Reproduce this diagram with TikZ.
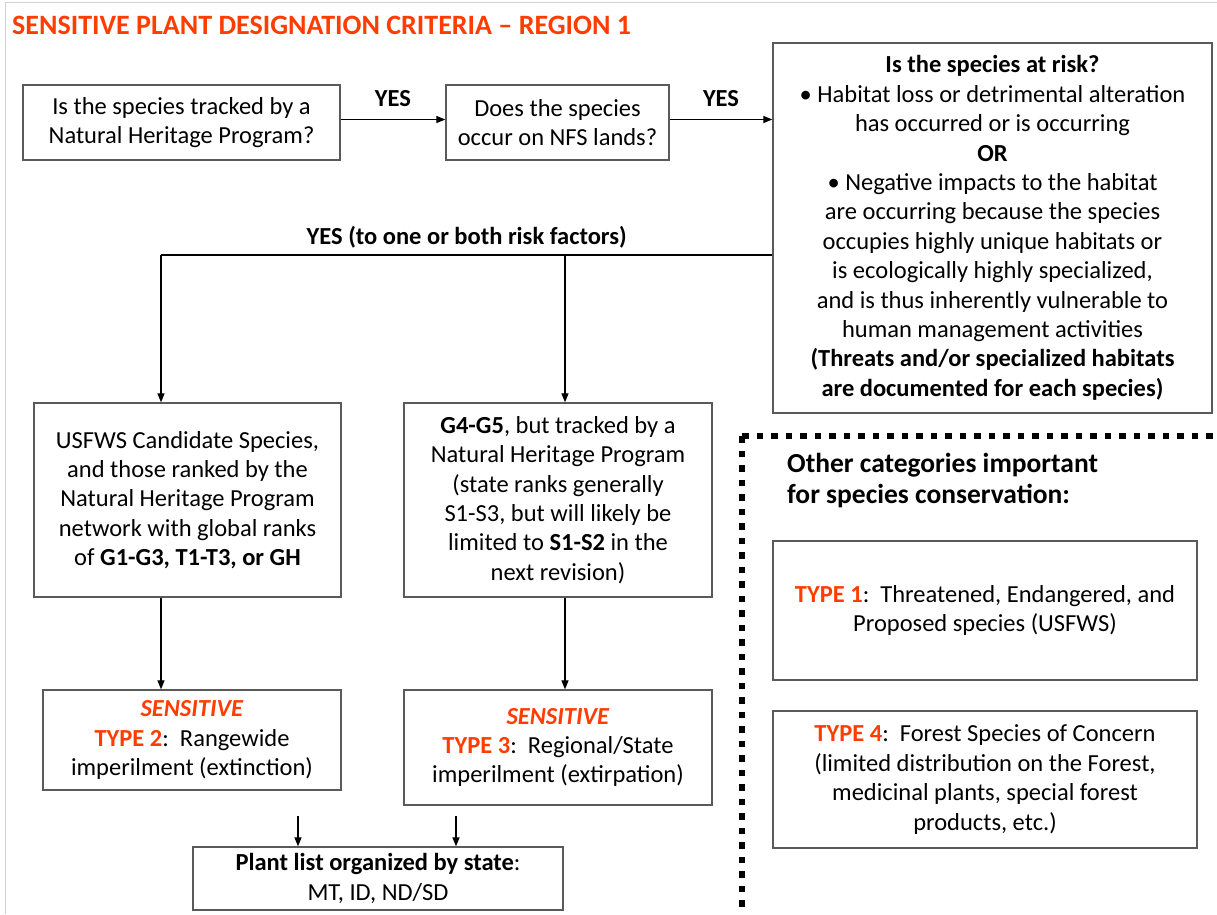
\documentclass[tikz,border=0pt]{standalone}
\usepackage{fontspec}
\setmainfont{Carlito}
\usetikzlibrary{arrows.meta,calc}
\definecolor{hot}{HTML}{FF3D00}
\definecolor{boxgray}{HTML}{5A5A5A}
\begin{document}
\begin{tikzpicture}[x=1pt,y=-1pt,
  box/.style={draw=boxgray, line width=1.3pt, align=center, inner sep=0pt,
    font=\fontsize{24.5}{29.4}\selectfont},
  conn/.style={line width=1.2pt, -{Triangle[length=9pt,width=7pt]}},
  plain/.style={line width=1.2pt},
  yeslbl/.style={font=\fontsize{24.5}{28}\selectfont\bfseries, inner sep=0pt},
  dotline/.style={line width=6.5pt, dash pattern=on 6.5pt off 8pt}
]
\useasboundingbox (0,0) rectangle (1217,914);
\fill[white] (0,0) rectangle (1217,914);
\draw[gray!35, line width=1pt] (5,914) -- (5,2) -- (1217,2);

% title
\node[anchor=west, inner sep=0pt, text=hot, font=\fontsize{28}{32}\selectfont\bfseries] (title) at (12,25)
  {SENSITIVE PLANT DESIGNATION CRITERIA – REGION 1};

% boxes
\node[box, minimum width=317pt, minimum height=75pt] (A) at (181.5,122.5)
  {Is the species tracked by a\\Natural Heritage Program?};
\node[box, minimum width=223pt, minimum height=75pt] (B) at (557.5,122.5)
  {Does the species\\occur on NFS lands?};
\node[box, minimum width=439pt, minimum height=370pt] (C) at (992.5,228)
  {\textbf{Is the species at risk?}\\
   • Habitat loss or detrimental alteration\\
   has occurred or is occurring\\
   \textbf{OR}\\
   • Negative impacts to the habitat\\
   are occurring because the species\\
   occupies highly unique habitats or\\
   is ecologically highly specialized,\\
   and is thus inherently vulnerable to\\
   human management activities\\
   \textbf{(Threats and/or specialized habitats}\\
   \textbf{are documented for each species)}};
\node[box, minimum width=307pt, minimum height=194pt] (D) at (187.5,500)
  {USFWS Candidate Species,\\and those ranked by the\\Natural Heritage Program\\network with global ranks\\of \textbf{G1-G3, T1-T3, or GH}};
\node[box, minimum width=308pt, minimum height=194pt] (E) at (558,500)
  {\textbf{G4-G5}, but tracked by a\\Natural Heritage Program\\(state ranks generally\\S1-S3, but will likely be\\limited to \textbf{S1-S2} in the\\next revision)};
\node[box, minimum width=298pt, minimum height=100pt] (F) at (192,740)
  {\textcolor{hot}{\textbf{\textit{SENSITIVE}}}\\\textcolor{hot}{\textbf{TYPE 2}}:\ \ Rangewide\\imperilment (extinction)};
\node[box, minimum width=308pt, minimum height=115pt] (G) at (558,747.5)
  {\textcolor{hot}{\textbf{\textit{SENSITIVE}}}\\\textcolor{hot}{\textbf{TYPE 3}}:\ \ Regional/State\\imperilment (extirpation)};
\node[box, minimum width=370pt, minimum height=63pt] (H) at (378,878.5)
  {\textbf{Plant list organized by state}:\\MT, ID, ND/SD};
\node[box, minimum width=424pt, minimum height=139pt] (I) at (985,610.5)
  {\textcolor{hot}{\textbf{TYPE 1}}:\ \ Threatened, Endangered, and\\Proposed species (USFWS)};
\node[box, minimum width=424pt, minimum height=137pt] (J) at (985,779.5)
  {\textcolor{hot}{\textbf{TYPE 4}}:\ \ Forest Species of Concern\\(limited distribution on the Forest,\\medicinal plants, special forest\\products, etc.)};

% other categories heading
\node[anchor=west, align=left, inner sep=0pt, font=\fontsize{27.5}{31}\selectfont\bfseries] (other) at (787,481)
  {Other categories important\\for species conservation:};

% dotted separator
\coordinate (dc) at (742,436);
\draw[dotline] (dc) -- (1217,436);
\draw[dotline] (dc) -- (742,914);

% connectors
\draw[conn] ([yshift=3pt]A.east) -- node[yeslbl, midway, yshift=21pt] (yes1) {YES} ([yshift=3pt]A.east -| B.west);
\draw[conn] ([yshift=3pt]B.east) -- node[yeslbl, midway, yshift=21pt] (yes2) {YES} ([yshift=3pt]B.east -| C.west);

\coordinate (j) at (773,255);
\coordinate (jl) at (161,255);
\coordinate (jr) at (565,255);
\draw[plain] (C.west |- j) -- node[yeslbl, pos=0.5, yshift=18pt] (yes3) {YES (to one or both risk factors)} (jl);
\draw[conn] (jl) -- (jl |- D.north);
\draw[conn] (jr) -- (jr |- E.north);
\draw[conn] (jl |- D.south) -- (jl |- F.north);
\draw[conn] (jr |- E.south) -- (jr |- G.north);

\coordinate (h1) at (298,816);
\coordinate (h2) at (456,816);
\draw[conn] (h1) -- (h1 |- H.north);
\draw[conn] (h2) -- (h2 |- H.north);
\end{tikzpicture}
\end{document}
